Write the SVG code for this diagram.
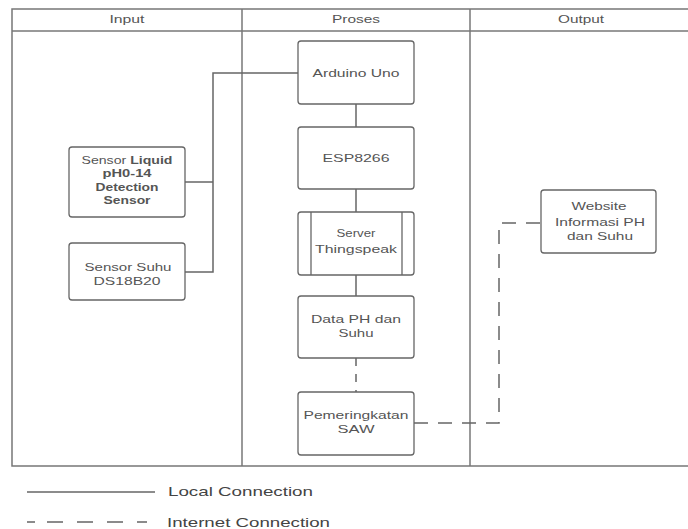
<svg xmlns="http://www.w3.org/2000/svg" width="688" height="529" viewBox="0 0 688 529">
<style>
.frame{fill:none;stroke:#777;stroke-width:1.5}
.box rect{fill:#fff;stroke:#666;stroke-width:1.3}
.box line{stroke:#666;stroke-width:1.3}
text{font-family:"Liberation Sans",Arial,sans-serif;fill:#555;font-size:11px;text-anchor:middle}
.b{font-weight:bold}
.leg{font-size:13px;text-anchor:start;fill:#444}
.solid{fill:none;stroke:#666;stroke-width:1.5}
.dash{fill:none;stroke:#666;stroke-width:1.5;stroke-dasharray:14 10}
</style>
<rect x="0" y="0" width="688" height="529" fill="#fff"/>
<g id="lanes">
<path class="frame" d="M690 9 H12 V466 H690"/>
<line class="frame" x1="12" y1="31" x2="690" y2="31"/>
<line class="frame" x1="242" y1="9" x2="242" y2="466"/>
<line class="frame" x1="470" y1="9" x2="470" y2="466"/>
<text x="127" y="23" textLength="35" lengthAdjust="spacingAndGlyphs">Input</text>
<text x="356" y="23" textLength="48" lengthAdjust="spacingAndGlyphs">Proses</text>
<text x="581" y="23" textLength="46" lengthAdjust="spacingAndGlyphs">Output</text>
</g>
<g id="connectors">
<path class="solid" d="M298 73 H213 V272 H185"/>
<path class="solid" d="M213 182 H185"/>
<line class="solid" x1="356" y1="104" x2="356" y2="127"/>
<line class="solid" x1="356" y1="189" x2="356" y2="212"/>
<line class="solid" x1="356" y1="275" x2="356" y2="296"/>
<line class="dash" x1="356" y1="358" x2="356" y2="392" style="stroke-dasharray:8 8"/>
<path class="dash" d="M414 423 H499 V223 H541"/>
</g>
<g id="sensor-liquid" class="box">
<rect x="69" y="147" width="116" height="70" rx="3"/>
<text x="127" y="164" textLength="91" lengthAdjust="spacingAndGlyphs">Sensor <tspan class="b">Liquid</tspan></text>
<text x="127" y="177" class="b" textLength="49" lengthAdjust="spacingAndGlyphs">pH0-14</text>
<text x="127" y="191" class="b" textLength="63" lengthAdjust="spacingAndGlyphs">Detection</text>
<text x="127" y="204" class="b" textLength="47" lengthAdjust="spacingAndGlyphs">Sensor</text>
</g>
<g id="sensor-suhu" class="box">
<rect x="69" y="243" width="116" height="57" rx="3"/>
<text x="128" y="271" textLength="87" lengthAdjust="spacingAndGlyphs">Sensor Suhu</text>
<text x="127" y="285" textLength="67" lengthAdjust="spacingAndGlyphs">DS18B20</text>
</g>
<g id="arduino" class="box">
<rect x="298" y="41" width="116" height="63" rx="3"/>
<text x="356" y="77" textLength="87" lengthAdjust="spacingAndGlyphs">Arduino Uno</text>
</g>
<g id="esp8266" class="box">
<rect x="298" y="127" width="116" height="62" rx="3"/>
<text x="356" y="162" textLength="67" lengthAdjust="spacingAndGlyphs">ESP8266</text>
</g>
<g id="server" class="box">
<rect x="298" y="212" width="116" height="63" rx="3"/>
<line x1="311" y1="212" x2="311" y2="275"/>
<line x1="402" y1="212" x2="402" y2="275"/>
<text x="356" y="237" textLength="39" lengthAdjust="spacingAndGlyphs">Server</text>
<text x="356" y="253" textLength="82" lengthAdjust="spacingAndGlyphs">Thingspeak</text>
</g>
<g id="data" class="box">
<rect x="298" y="296" width="116" height="62" rx="3"/>
<text x="356" y="323" textLength="90" lengthAdjust="spacingAndGlyphs">Data PH dan</text>
<text x="356" y="337" textLength="35" lengthAdjust="spacingAndGlyphs">Suhu</text>
</g>
<g id="saw" class="box">
<rect x="298" y="392" width="116" height="63" rx="3"/>
<text x="356" y="419" textLength="105" lengthAdjust="spacingAndGlyphs">Pemeringkatan</text>
<text x="356" y="433" textLength="37" lengthAdjust="spacingAndGlyphs">SAW</text>
</g>
<g id="website" class="box">
<rect x="541" y="190" width="115" height="63" rx="3"/>
<text x="599" y="210" textLength="55" lengthAdjust="spacingAndGlyphs">Website</text>
<text x="600" y="226" textLength="90" lengthAdjust="spacingAndGlyphs">Informasi PH</text>
<text x="600" y="240" textLength="66" lengthAdjust="spacingAndGlyphs">dan Suhu</text>
</g>
<g id="legend">
<line class="solid" x1="27" y1="492" x2="155" y2="492"/>
<text class="leg" x="168" y="496" textLength="145" lengthAdjust="spacingAndGlyphs">Local Connection</text>
<line class="dash" x1="27" y1="522" x2="155" y2="522" style="stroke-dasharray:8 12 16 14 16 14 16 14 10"/>
<text class="leg" x="167" y="527" textLength="163" lengthAdjust="spacingAndGlyphs">Internet Connection</text>
</g>
</svg>
